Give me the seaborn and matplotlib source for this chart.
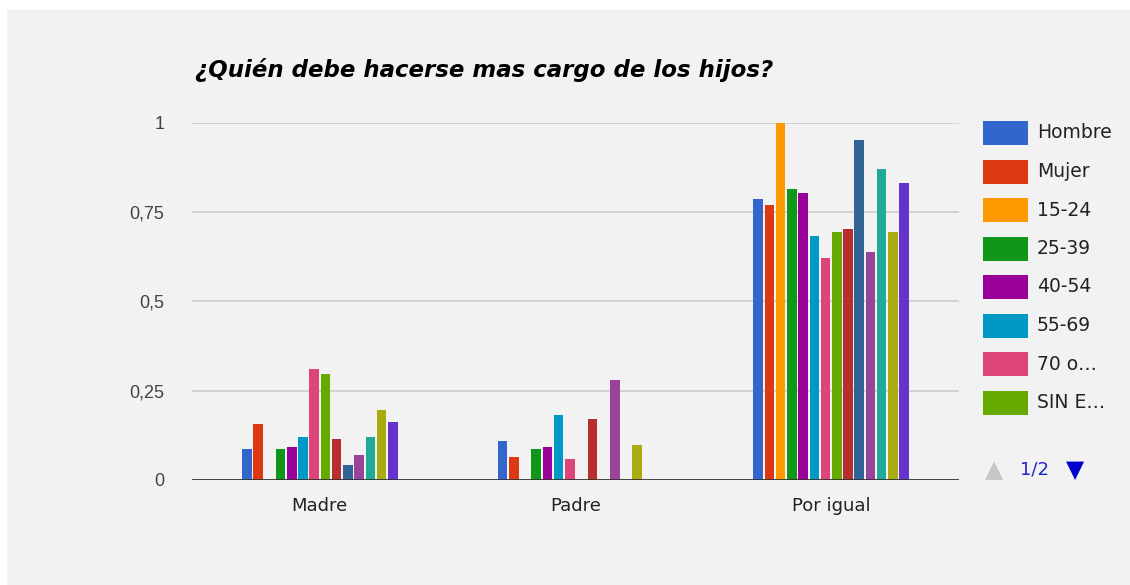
import numpy as np
import pandas as pd
import matplotlib
matplotlib.use("Agg")
import matplotlib.pyplot as plt
import seaborn as sns
from matplotlib.patches import Rectangle

# categories on the x axis
grupos = ["Madre", "Padre", "Por igual"]

# series (first page of the legend shows the first 8)
series = ["Hombre", "Mujer", "15-24", "25-39", "40-54", "55-69", "70 o más",
          "SIN ESTUDIOS", "PRIMARIOS", "SECUNDARIOS", "BACHILLER", "FP",
          "UNIVERSITARIOS", "OTROS"]
etiquetas_leyenda = ["Hombre", "Mujer", "15-24", "25-39", "40-54", "55-69",
                     "70 o…", "SIN E…"]

# values, one list per category
madre = [0.087, 0.156, 0.0, 0.087, 0.093, 0.121, 0.310, 0.298, 0.116, 0.042,
         0.071, 0.121, 0.196, 0.161]
padre = [0.109, 0.063, 0.0, 0.086, 0.091, 0.183, 0.058, 0.0, 0.171, 0.0,
         0.279, 0.0, 0.097, 0.0]
por_igual = [0.786, 0.770, 1.0, 0.815, 0.804, 0.684, 0.622, 0.695, 0.702,
             0.952, 0.639, 0.871, 0.695, 0.832]

yticks = [0, 0.25, 0.5, 0.75, 1]
ytick_labels = ["0", "0,25", "0,5", "0,75", "1"]

colores = ["#3366cc", "#dc3912", "#ff9900", "#109618", "#990099", "#0099c6",
           "#dd4477", "#66aa00", "#b82e2e", "#316395", "#994499", "#22aa99",
           "#aaaa11", "#6633cc"]

rows = []
for g, vals in zip(grupos, [madre, padre, por_igual]):
    for s, v in zip(series, vals):
        rows.append({"grupo": g, "serie": s, "valor": v})
df = pd.DataFrame(rows)

sns.set_theme(style="white")
plt.rcParams["font.family"] = ["DejaVu Sans"]

W, H = 1130, 585
fig = plt.figure(figsize=(W / 100, H / 100), dpi=100, facecolor="white")
# light grey panel behind everything
fig.add_artist(Rectangle((7 / W, 0), 1, 1 - 10 / H, transform=fig.transFigure,
                         facecolor="#f2f2f2", edgecolor="none", zorder=-10))

ax = fig.add_axes([192 / W, 1 - 480 / H, (959 - 192) / W, (480 - 122.7) / H])
ax.set_facecolor("#f2f2f2")

sns.barplot(data=df, x="grupo", y="valor", hue="serie", hue_order=series,
            order=grupos, palette=colores, width=0.615, gap=0.15,
            legend=False, saturation=1, linewidth=0, ax=ax, zorder=3)

ax.set_ylim(0, 1)
ax.set_xlim(-0.5, 2.5)
ax.set_yticks(yticks)
ax.set_yticklabels(ytick_labels, fontsize=13, color="#444444",
                   family="Liberation Sans")
ax.tick_params(axis="y", length=0, pad=20)
ax.tick_params(axis="x", length=0, pad=12, labelsize=13, labelcolor="#222222")
ax.set_xlabel("")
ax.set_ylabel("")
for y in yticks[1:]:
    ax.axhline(y, color="#cccccc", lw=1.2, zorder=1)
ax.axhline(0, color="#333333", lw=2, zorder=5)
for sp in ax.spines.values():
    sp.set_visible(False)

fig.text(195 / W, 1 - 70 / H, "¿Quién debe hacerse mas cargo de los hijos?",
         fontsize=16.5, fontweight="bold", fontstyle="italic", color="#000000",
         va="center", ha="left")

# legend, first page
for i, lab in enumerate(etiquetas_leyenda):
    yc = 133 + 38.5 * i
    fig.add_artist(Rectangle((983 / W, 1 - (yc + 12) / H), 45 / W, 24 / H,
                             transform=fig.transFigure, facecolor=colores[i],
                             edgecolor="none"))
    fig.text(1037 / W, 1 - yc / H, lab, fontsize=13.5, color="#222222",
             va="center", ha="left")

# pager
fig.text(994 / W, 1 - 470 / H, "▲", fontsize=17, color="#c6c6c6",
         ha="center", va="center")
fig.text(1034 / W, 1 - 469 / H, "1/2", fontsize=13, color="#2222cc",
         ha="center", va="center")
fig.text(1075 / W, 1 - 470 / H, "▼", fontsize=17, color="#0000cc",
         ha="center", va="center")

fig.savefig("out.png", dpi=100, facecolor=fig.get_facecolor())
